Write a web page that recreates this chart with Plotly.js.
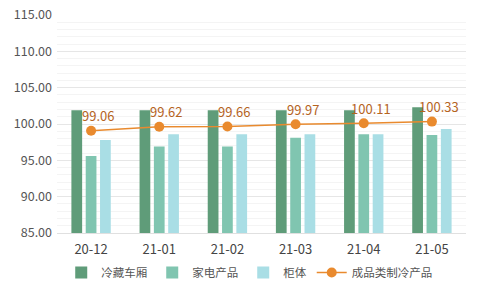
<!DOCTYPE html>
<html><head><meta charset="utf-8">
<script src="https://cdn.plot.ly/plotly-3.0.1.min.js"></script>
<style>html,body{margin:0;padding:0;background:#fff}#c{width:480px;height:297px}</style>
</head><body><div id="c"></div>
<script>
const categories = ['20-12','21-01','21-02','21-03','21-04','21-05'];
const lengcang = [101.9, 101.9, 101.9, 101.9, 101.9, 102.3];
const jiadian = [95.6, 96.9, 96.9, 98.1, 98.6, 98.5];
const guiti = [97.8, 98.6, 98.6, 98.6, 98.6, 99.3];
const chengpin = [99.06, 99.62, 99.66, 99.97, 100.11, 100.33];
const names = ['冷藏车厢','家电产品','柜体','成品类制冷产品'];
const font = '"Microsoft YaHei","Noto Sans CJK SC","Noto Sans",sans-serif';
function bar(name, y, color){
  return {type:'bar', name:name, x:categories, y:y, marker:{color:color, line:{width:0}}, hoverinfo:'skip'};
}
const data = [
  bar(names[0], lengcang, '#5f9c79'),
  bar(names[1], jiadian, '#80c5b0'),
  bar(names[2], guiti, '#a9dee5'),
  {type:'scatter', mode:'lines+markers', name:names[3], x:categories, y:chengpin,
   line:{color:'#e98a2e', width:1.5}, marker:{color:'#e98a2e', size:10}, cliponaxis:false}
];
const annotations = categories.map((c,i)=>({
  x:c, y:chengpin[i], xref:'x', yref:'y', text:chengpin[i].toFixed(2), showarrow:false,
  xshift:7, yshift:15, font:{color:'#b5641f', size:13, family:font}
}));
const layout = {
  width:480, height:297, margin:{l:57, r:14, t:15, b:64, autoexpand:false},
  paper_bgcolor:'#fff', plot_bgcolor:'#fff',
  font:{family:font, size:12, color:'#555'},
  barmode:'group', bargap:0.37, bargroupgap:0.25,
  showlegend:true, annotations:annotations,
  legend:{orientation:'h', x:0.47, xanchor:'center', y:-0.115, yanchor:'top', font:{size:11.5, color:'#555'}, tracegroupgap:0},
  xaxis:{type:'category', showgrid:false, showline:true, linecolor:'#e0e0e0', ticks:'', ticklabelstandoff:4, tickfont:{size:13, color:'#444'}},
  yaxis:{range:[85,115], dtick:5, tick0:85, tickformat:'.2f', showgrid:true, gridcolor:'#e6e6e6', zeroline:false, ticks:'', ticklabelstandoff:4, tickfont:{size:12.5, color:'#555'},
    minor:{dtick:1, showgrid:true, gridcolor:'#f4f4f4'}}
};
Plotly.newPlot('c', data, layout, {displayModeBar:false});
</script></body></html>
